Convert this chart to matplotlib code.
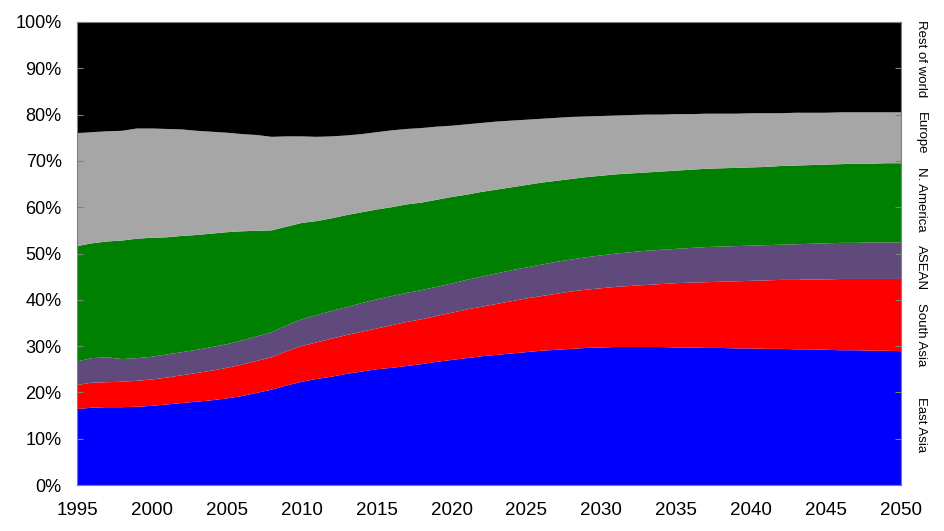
import matplotlib.pyplot as plt
import numpy as np

plt.rcParams['font.family'] = ['Liberation Sans', 'DejaVu Sans']

years = list(range(1995, 2051))

# shares of world total (%)
east_asia = [16.4, 16.7, 16.8, 16.8, 16.9, 17.1, 17.4, 17.7, 18.0, 18.3,
             18.7, 19.2, 19.9, 20.6, 21.5, 22.3, 22.9, 23.4, 24.0, 24.5,
             25.0, 25.3, 25.7, 26.1, 26.6, 27.0, 27.4, 27.8, 28.1, 28.4,
             28.7, 29.0, 29.2, 29.4, 29.6, 29.7, 29.8, 29.8, 29.8, 29.8,
             29.7, 29.7, 29.6, 29.6, 29.5, 29.5, 29.4, 29.4, 29.3, 29.3,
             29.2, 29.1, 29.1, 29.0, 29.0, 28.9]
south_asia = [5.2, 5.4, 5.4, 5.5, 5.6, 5.7, 5.8, 6.0, 6.2, 6.4,
              6.6, 6.8, 6.9, 7.0, 7.4, 7.7, 7.9, 8.2, 8.4, 8.6,
              8.8, 9.2, 9.5, 9.7, 9.9, 10.2, 10.5, 10.7, 11.0, 11.3,
              11.6, 11.8, 12.1, 12.4, 12.6, 12.8, 13.0, 13.2, 13.4, 13.6,
              13.9, 14.0, 14.2, 14.3, 14.5, 14.6, 14.8, 14.9, 15.0, 15.1,
              15.2, 15.4, 15.4, 15.5, 15.5, 15.6]
asean = [5.1, 5.3, 5.4, 4.9, 4.9, 4.9, 5.0, 5.0, 5.0, 5.1,
         5.1, 5.2, 5.3, 5.4, 5.6, 5.8, 5.9, 6.0, 6.0, 6.2,
         6.3, 6.3, 6.3, 6.3, 6.3, 6.3, 6.4, 6.5, 6.6, 6.7,
         6.7, 6.8, 6.9, 6.9, 7.0, 7.1, 7.2, 7.3, 7.4, 7.4,
         7.4, 7.5, 7.6, 7.6, 7.6, 7.6, 7.6, 7.6, 7.7, 7.7,
         7.8, 7.8, 7.8, 7.9, 7.9, 7.9]
n_america = [24.9, 24.8, 25.0, 25.6, 25.8, 25.7, 25.3, 25.1, 24.8, 24.5,
             24.2, 23.6, 22.8, 22.0, 21.3, 20.8, 20.3, 20.0, 19.9, 19.6,
             19.4, 19.2, 19.1, 18.9, 18.8, 18.7, 18.4, 18.3, 18.1, 17.9,
             17.8, 17.7, 17.5, 17.4, 17.3, 17.2, 17.1, 17.0, 16.9, 16.9,
             16.9, 16.9, 16.9, 16.9, 16.9, 16.9, 16.9, 17.0, 17.0, 17.0,
             17.0, 17.0, 17.1, 17.0, 17.1, 17.1]
europe = [24.4, 24.0, 23.8, 23.7, 23.8, 23.6, 23.4, 23.0, 22.5, 22.0,
          21.5, 21.0, 20.7, 20.2, 19.5, 18.7, 18.2, 17.7, 17.2, 16.9,
          16.7, 16.6, 16.3, 16.1, 15.8, 15.4, 15.2, 14.9, 14.7, 14.4,
          14.1, 13.8, 13.6, 13.4, 13.1, 12.9, 12.7, 12.6, 12.5, 12.3,
          12.2, 12.0, 11.9, 11.8, 11.7, 11.7, 11.6, 11.4, 11.4, 11.3,
          11.2, 11.2, 11.1, 11.1, 11.0, 11.0]
rest_of_world = [24.0, 23.8, 23.6, 23.5, 23.0, 23.0, 23.1, 23.2, 23.5, 23.7,
                 23.9, 24.2, 24.4, 24.8, 24.7, 24.7, 24.8, 24.7, 24.5, 24.2,
                 23.8, 23.4, 23.1, 22.9, 22.6, 22.4, 22.1, 21.8, 21.5, 21.3,
                 21.1, 20.9, 20.7, 20.5, 20.4, 20.3, 20.2, 20.1, 20.0, 20.0,
                 19.9, 19.9, 19.8, 19.8, 19.8, 19.7, 19.7, 19.7, 19.6, 19.6,
                 19.6, 19.5, 19.5, 19.5, 19.5, 19.5]

series_names = ['East Asia', 'South Asia', 'ASEAN', 'N. America', 'Europe', 'Rest of world']
series_colors = ['#0000FF', '#FF0000', '#604A7B', '#008000', '#A6A6A6', '#000000']
# vertical position (%) of each right-hand label
label_pos = [13.0, 32.4, 47.0, 61.7, 76.0, 92.0]

fig = plt.figure(figsize=(9.45, 5.31), dpi=100)
ax = fig.add_axes([77 / 945, 46 / 531, 824 / 945, 463 / 531])

ax.stackplot(years, east_asia, south_asia, asean, n_america, europe, rest_of_world,
             colors=series_colors, linewidth=0)

ax.set_xlim(1995, 2050)
ax.set_ylim(0, 100)

ax.set_yticks(np.arange(0, 101, 10))
ax.set_yticklabels([f'{v}%' for v in range(0, 101, 10)])
ax.set_xticks(range(1995, 2051, 5))
ax.set_xticks(range(2005, 2050, 10), minor=True)

ax.tick_params(axis='y', which='major', direction='in', length=4, width=0.8,
               color='#808080', labelsize=13, pad=11, right=True)
ax.tick_params(axis='x', which='major', length=0, labelsize=13.5, pad=12)
ax.tick_params(axis='x', which='minor', direction='in', length=4, width=0.8,
               color='#808080')

for sp in ax.spines.values():
    sp.set_color('#808080')
    sp.set_linewidth(0.8)

for name, pos in zip(series_names, label_pos):
    ax.text(1.024, pos / 100, name, transform=ax.transAxes, rotation=-90,
            ha='center', va='center', fontsize=9.5)

fig.savefig('out.png', dpi=100)
